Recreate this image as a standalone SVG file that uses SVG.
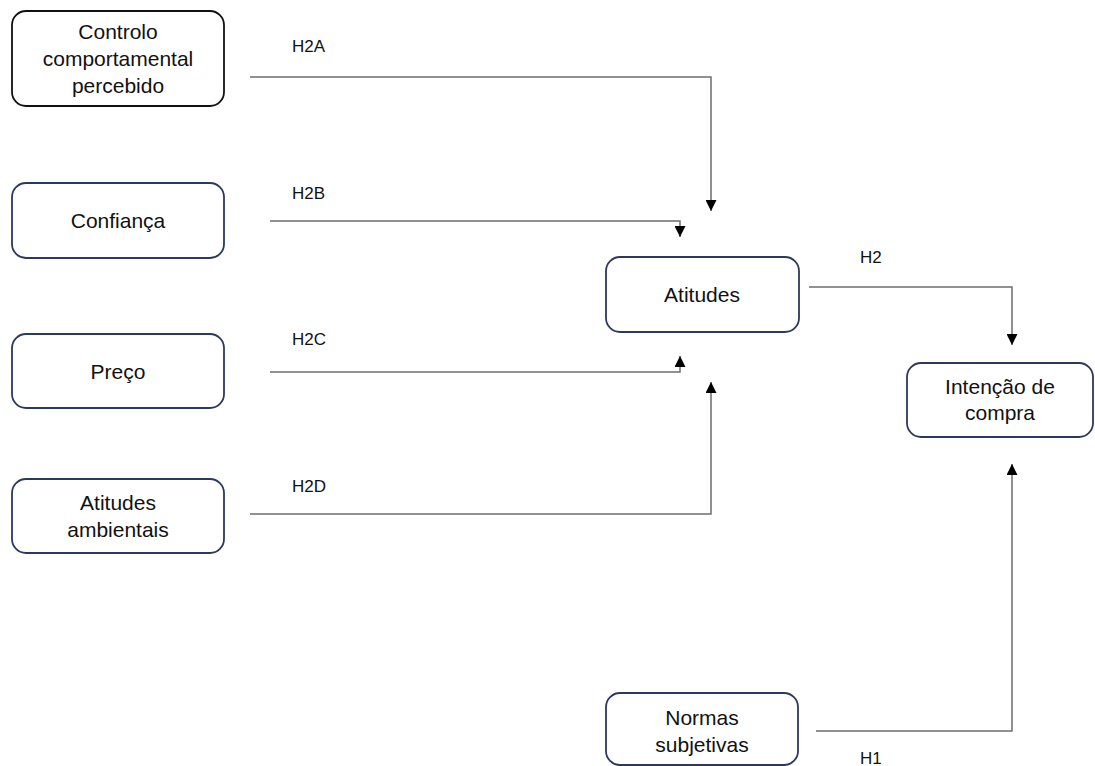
<svg xmlns="http://www.w3.org/2000/svg" width="1095" height="766" viewBox="0 0 1095 766">
<defs>
<style>
.box{fill:#ffffff;stroke:#2b3a5c;stroke-width:1.8}
.box.black{stroke:#111111}
.t{font-family:"Liberation Sans","Open Sans",Arial,sans-serif;font-size:21px;fill:#111111;text-anchor:middle}
.lbl{font-family:"Liberation Sans","Open Sans",Arial,sans-serif;font-size:17px;fill:#111111}
.conn{fill:none;stroke:#6e6e6e;stroke-width:1.5;marker-end:url(#ah)}
</style>
<marker id="ah" viewBox="0 0 10 10" refX="10" refY="5" markerWidth="11" markerHeight="11" markerUnits="userSpaceOnUse" orient="auto">
<path d="M0,0 L10,5 L0,10 z" fill="#000000"/>
</marker>
</defs>
<rect width="1095" height="766" fill="#ffffff"/>

<g id="connectors">
<path class="conn" d="M250 77 H711 V211"/>
<path class="conn" d="M270 221 H680 V237"/>
<path class="conn" d="M270 372 H680 V356"/>
<path class="conn" d="M250 514 H711 V382"/>
<path class="conn" d="M809 287 H1012 V345"/>
<path class="conn" d="M816 731 H1012 V464"/>
<text class="lbl" x="292" y="52">H2A</text>
<text class="lbl" x="292" y="199">H2B</text>
<text class="lbl" x="292" y="345">H2C</text>
<text class="lbl" x="292" y="492">H2D</text>
<text class="lbl" x="860" y="263">H2</text>
<text class="lbl" x="860" y="764">H1</text>
</g>

<g id="controlo">
<rect class="box black" x="12" y="11" width="212" height="95" rx="14"/>
<text class="t" x="118" y="39">Controlo</text>
<text class="t" x="118" y="66">comportamental</text>
<text class="t" x="118" y="93">percebido</text>
</g>

<g id="confianca">
<rect class="box" x="12" y="183" width="212" height="75" rx="14"/>
<text class="t" x="118" y="228">Confiança</text>
</g>

<g id="preco">
<rect class="box" x="12" y="334" width="212" height="74" rx="14"/>
<text class="t" x="118" y="379">Preço</text>
</g>

<g id="atitudes-ambientais">
<rect class="box" x="12" y="479" width="212" height="74" rx="14"/>
<text class="t" x="118" y="510">Atitudes</text>
<text class="t" x="118" y="537">ambientais</text>
</g>

<g id="atitudes">
<rect class="box" x="606" y="257" width="193" height="75" rx="14"/>
<text class="t" x="702" y="302">Atitudes</text>
</g>

<g id="intencao">
<rect class="box" x="907" y="363" width="186" height="74" rx="14"/>
<text class="t" x="1000" y="394">Intenção de</text>
<text class="t" x="1000" y="420">compra</text>
</g>

<g id="normas">
<rect class="box" x="606" y="693" width="192" height="72" rx="14"/>
<text class="t" x="702" y="725">Normas</text>
<text class="t" x="702" y="752">subjetivas</text>
</g>
</svg>
